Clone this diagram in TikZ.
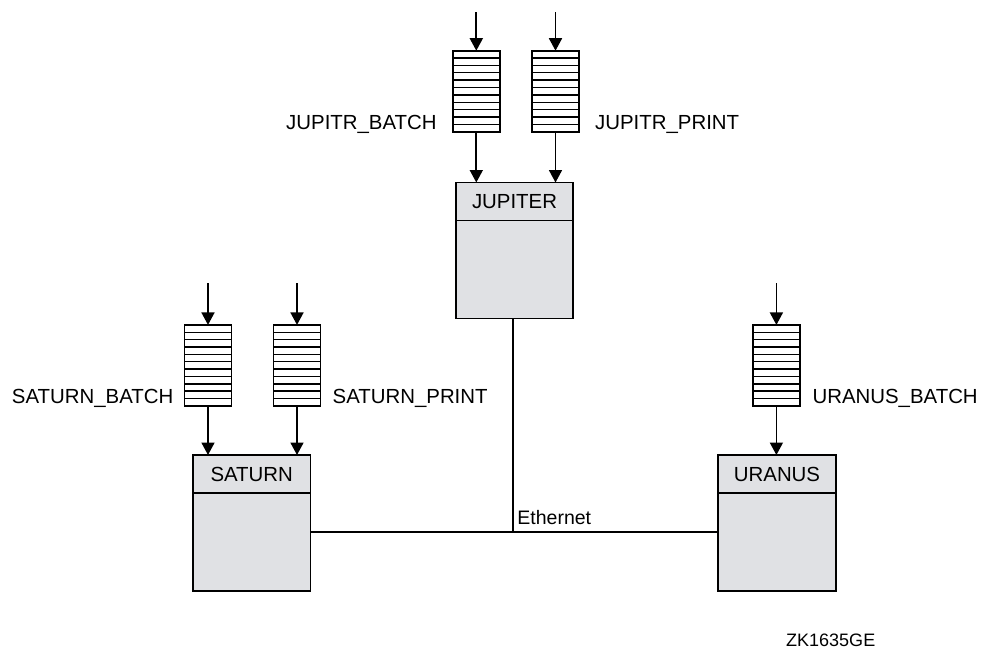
\documentclass[tikz,border=0pt]{standalone}
\usepackage{fontspec}
\setmainfont{Liberation Sans}
\usetikzlibrary{arrows.meta}
\definecolor{boxgray}{RGB}{224,225,228}
\tikzset{
  queue/.style={draw, line width=1.8pt, fill=white, minimum width=47pt, minimum height=81pt,
    inner sep=0pt, outer sep=0pt,
    path picture={\foreach \i in {1,...,10}{
      \draw[line width=1.4pt] ([yshift=\i*81pt/11]path picture bounding box.south west)
        -- ([yshift=\i*81pt/11]path picture bounding box.south east);}}},
  host/.style={draw, line width=1.8pt, fill=boxgray, minimum width=117.5pt, minimum height=136pt,
    inner sep=0pt, outer sep=0pt,
    path picture={\draw[line width=1.8pt] ([yshift=-38pt]path picture bounding box.north west)
        -- ([yshift=-38pt]path picture bounding box.north east);}},
  lbl/.style={font=\fontsize{20.4}{23}\selectfont, inner sep=0pt},
  hostlbl/.style={lbl, anchor=center},
  flow/.style={line width=1.7pt, -{Triangle[length=12.5pt,width=13pt]}},
  wire/.style={line width=1.7pt},
}
\begin{document}
\begin{tikzpicture}[x=1pt,y=-1pt]
\useasboundingbox (0,0) rectangle (982,649);

% hosts
\node[host] (jup) at (514.5,250.5) {};
\node[host] (sat) at (251.7,523) {};
\node[host] (ura) at (777,523) {};
\node[hostlbl] (jupl) at ([yshift=-19pt]jup.north) {JUPITER};
\node[hostlbl] (satl) at ([yshift=-19pt]sat.north) {SATURN};
\node[hostlbl] (ural) at ([yshift=-19pt]ura.north) {URANUS};

% queues
\node[queue] (jb) at (476.3,91.2) {};
\node[queue] (jp) at (555.5,91.2) {};
\node[queue] (sb) at (208,365.4) {};
\node[queue] (sp) at (297,365.4) {};
\node[queue] (ub) at (776.4,365.4) {};

% queue labels
\node[lbl, anchor=base east] (jbl) at ([xshift=-16pt,yshift=2.4pt]jb.south west) {JUPITR\_BATCH};
\node[lbl, anchor=base west] (jpl) at ([xshift=16pt,yshift=2.4pt]jp.south east) {JUPITR\_PRINT};
\node[lbl, anchor=base east] (sbl) at ([xshift=-11pt,yshift=2.4pt]sb.south west) {SATURN\_BATCH};
\node[lbl, anchor=base west] (spl) at ([xshift=12pt,yshift=2.4pt]sp.south east) {SATURN\_PRINT};
\node[lbl, anchor=base west] (ubl) at ([xshift=12.5pt,yshift=2.4pt]ub.south east) {URANUS\_BATCH};

% incoming arrow starts
\coordinate (jbin) at (476.3,12);
\coordinate (jpin) at (555.5,12);
\coordinate (sbin) at (208,283);
\coordinate (spin) at (297,283);
\coordinate (ubin) at (776.4,283);

\draw[flow] (jbin) -- (jb.north);
\draw[flow] (jpin) -- (jp.north);
\draw[flow] (sbin) -- (sb.north);
\draw[flow] (spin) -- (sp.north);
\draw[flow] (ubin) -- (ub.north);

\draw[flow] (jb.south) -- (jb.south |- jup.north);
\draw[flow] (jp.south) -- (jp.south |- jup.north);
\draw[flow] (sb.south) -- (sb.south |- sat.north);
\draw[flow] (sp.south) -- (sp.south |- sat.north);
\draw[flow] (ub.south) -- (ub.south |- ura.north);

% ethernet
\coordinate (eth) at (512.7,532.3);
\draw[wire] (eth |- jup.south) -- (eth);
\draw[wire] (sat.east |- eth) -- (ura.west |- eth);
\node[lbl, anchor=base west, font=\fontsize{19.5}{22}\selectfont] (ethl) at ([xshift=4.5pt,yshift=7.5pt]eth) {Ethernet};

\node[lbl, anchor=base west, font=\fontsize{18}{20}\selectfont] (zk) at (786,646) {ZK1635GE};
\end{tikzpicture}
\end{document}
